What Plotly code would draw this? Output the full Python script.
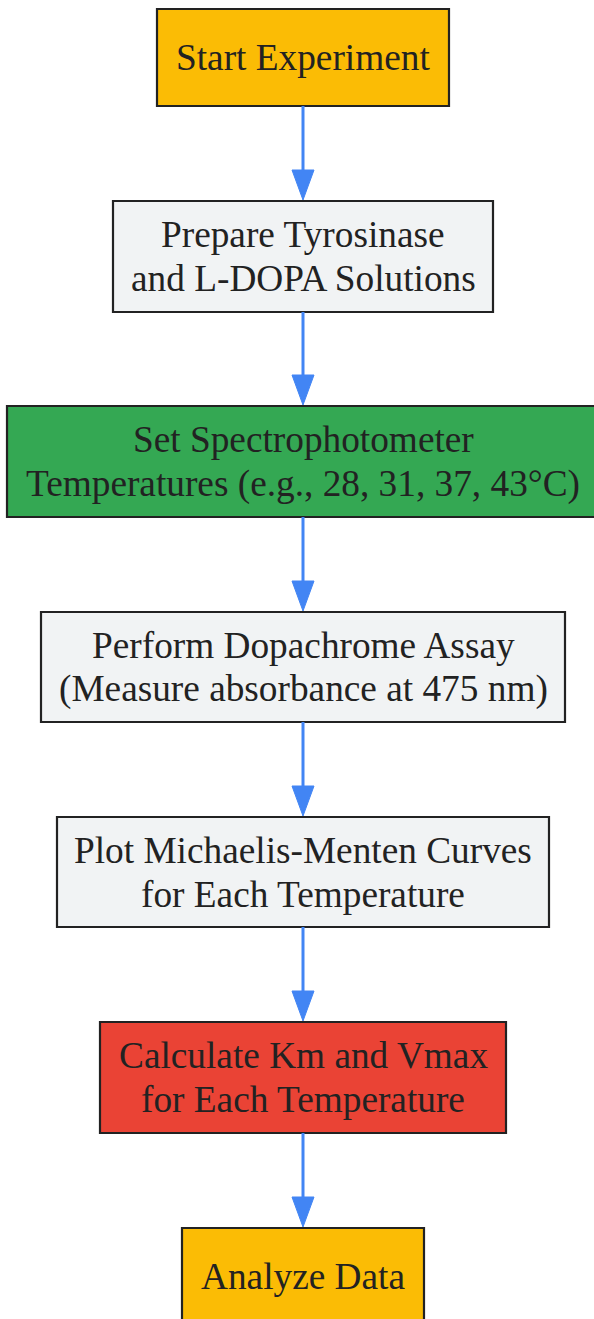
import plotly.graph_objects as go

# ---- data: flowchart steps ----
step_labels = [
    "Start Experiment",
    "Prepare Tyrosinase<br>and L-DOPA Solutions",
    "Set Spectrophotometer<br>Temperatures (e.g., 28, 31, 37, 43°C)",
    "Perform Dopachrome Assay<br>(Measure absorbance at 475 nm)",
    "Plot Michaelis-Menten Curves<br>for Each Temperature",
    "Calculate Km and Vmax<br>for Each Temperature",
    "Analyze Data",
]
step_kind = ["terminal", "process", "setup", "process", "process", "compute", "terminal"]
edges = [(0, 1), (1, 2), (2, 3), (3, 4), (4, 5), (5, 6)]

# ---- styling / geometry ----
W, H = 594, 1319
CX = 303
fill_for = {
    "terminal": "#FBBC05",
    "process": "#F1F3F4",
    "setup": "#34A853",
    "compute": "#EA4335",
}
box_half_width = [146, 190, 296, 262, 246, 203, 121]
box_top = [9, 201, 406, 612, 817, 1022, 1228]
box_height = [97, 111, 111, 110, 110, 111, 97]
FONT = dict(family="Liberation Serif, Times New Roman, serif", size=37.3, color="#222222")
LINE_GAP = 44
ARROW = "#4285F4"

fig = go.Figure()
shapes = []
annotations = []

for i, label in enumerate(step_labels):
    x0, x1 = CX - box_half_width[i], CX + box_half_width[i]
    y0, y1 = box_top[i], box_top[i] + box_height[i]
    shapes.append(dict(type="rect", xref="x", yref="y", x0=x0, x1=x1, y0=y0, y1=y1,
                       fillcolor=fill_for[step_kind[i]],
                       line=dict(color="#222222", width=2.2), layer="below"))
    lines = label.split("<br>")
    cy = (y0 + y1) / 2
    n = len(lines)
    for j, ln in enumerate(lines):
        ly = cy + (j - (n - 1) / 2) * LINE_GAP
        annotations.append(dict(x=CX, y=ly, xref="x", yref="y", text=ln, showarrow=False,
                                xanchor="center", yanchor="middle", font=FONT))

for a, b in edges:
    ys = box_top[a] + box_height[a]
    ye = box_top[b]
    head_base = ye - 31
    shapes.append(dict(type="line", xref="x", yref="y", x0=CX, x1=CX, y0=ys, y1=head_base + 2,
                       line=dict(color=ARROW, width=3)))
    shapes.append(dict(type="path", xref="x", yref="y",
                       path=f"M {CX-11} {head_base} L {CX+11} {head_base} L {CX} {ye-1} Z",
                       fillcolor=ARROW, line=dict(color=ARROW, width=1)))

fig.update_layout(
    width=W, height=H,
    margin=dict(l=0, r=0, t=0, b=0),
    paper_bgcolor="white", plot_bgcolor="white",
    xaxis=dict(range=[0, W], visible=False, fixedrange=True),
    yaxis=dict(range=[H, 0], visible=False, fixedrange=True),
    shapes=shapes, annotations=annotations, showlegend=False,
)
fig.write_html(
    "out.html",
    config={"displayModeBar": False},
    post_script="document.body.style.margin='0';document.body.style.overflow='hidden';"
                "document.documentElement.style.overflow='hidden';",
)
